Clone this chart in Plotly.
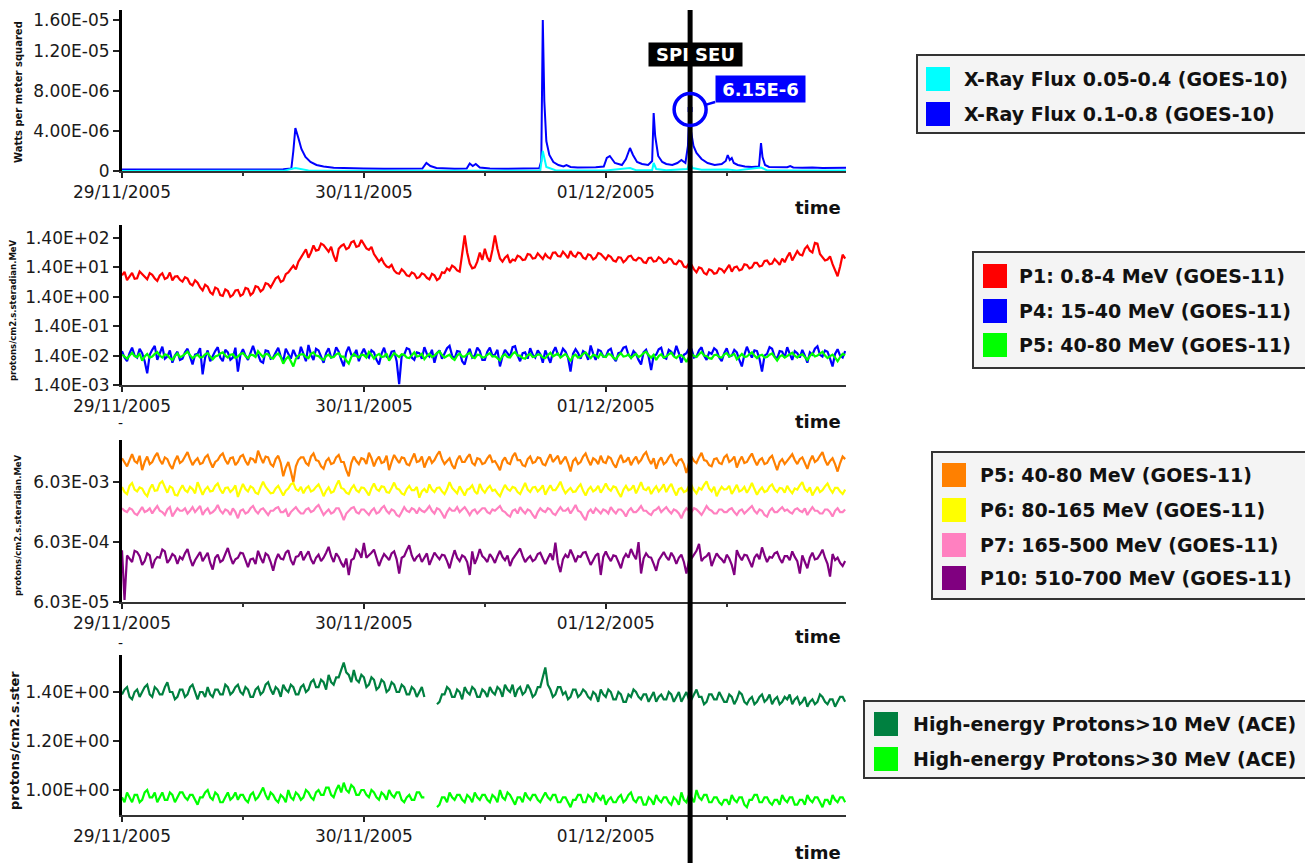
import numpy as np
import pandas as pd
import plotly.graph_objects as go

# ---------------------------------------------------------------- data
START = "2005-11-29 00:00"
END = "2005-12-01 23:50"
SEU_TIME = "2005-12-01 08:22"
SEU_VALUE = 6.15e-6
SEU_LABEL = "SPI SEU"
SEU_VALUE_LABEL = "6.15E-6"

# X-ray flux (GOES-10), hours after 29/11/2005 00:00, values in 1e-7 W/m^2
XRAY_LONG_HOURS = [0, 2, 4, 6, 8, 10, 12, 14, 16, 16.8, 17.0, 17.2, 17.5, 17.8, 18.2, 18.7, 19.3, 20,
                   21, 22, 24, 26, 28, 29.8, 30.2, 30.6, 31.2, 32, 33, 34.2, 34.5, 34.8, 35.1, 35.5,
                   36.5, 38, 40, 41.4, 41.6, 41.75, 41.9, 42.1, 42.4, 42.8, 43.3, 43.8, 44.1, 44.5,
                   45.2, 46, 47, 47.8, 48.1, 48.4, 48.9, 49.6, 50.0, 50.4, 50.7, 51.1, 51.6, 52.2,
                   52.6, 52.75, 52.9, 53.2, 53.6, 54.0, 54.6, 55.1, 55.5, 55.9, 56.15, 56.3, 56.45,
                   56.7, 57.0, 57.5, 58.1, 58.8, 59.5, 59.9, 60.1, 60.3, 60.5, 60.7, 61.1, 61.8, 62.5,
                   63.2, 63.4, 63.55, 63.8, 64.2, 65, 66, 66.3, 66.6, 67.5, 68.5, 69.5, 70.5, 71.5, 71.9]
XRAY_LONG_E7 = [1.6, 1.5, 1.8, 1.6, 1.4, 1.5, 1.6, 1.5, 1.7, 2.5, 20, 43, 33, 22, 14, 9, 6, 4.5,
                3.2, 2.8, 2.5, 2.3, 2.2, 2.5, 8, 5, 3, 2.4, 2.2, 2.6, 7.5, 5, 7, 3.5,
                2.4, 2.2, 2.3, 2.8, 10, 151, 70, 30, 16, 9, 6, 4.5, 6, 4,
                3.5, 3.3, 3.8, 4.5, 13, 15, 8, 6, 12, 23, 16, 9, 7, 6,
                10, 58, 35, 15, 9, 7, 6, 8, 11, 8, 25, 61.5, 40,
                25, 18, 12, 8, 6, 7, 10, 16, 11, 13, 8, 6, 4.5, 4,
                4.5, 28, 14, 6, 4, 3.6, 3.8, 5, 3.5, 3.2, 3.5, 3.0, 3.3, 3.1, 3.2]
XRAY_SHORT_HOURS = [0, 8, 16, 17.2, 18.5, 24, 30, 36, 41.5, 41.75, 42.1, 43, 48, 50.4, 51, 52.6,
                    52.75, 53.0, 54, 56.1, 56.3, 56.6, 57.5, 60.1, 61, 63.4, 64, 68, 71.9]
XRAY_SHORT_E7 = [0.1, 0.1, 0.15, 3, 0.6, 0.2, 0.25, 0.2, 0.4, 20, 4, 0.8, 0.5, 3, 0.8, 0.8,
                 8, 2, 0.7, 2, 9, 3, 1.2, 1.5, 0.6, 3.5, 0.6, 0.4, 0.4]

# GOES-11 protons, 15-minute samples from 29/11/2005 00:00 (protons/cm2.s.sr.MeV)
P1_FLUX = [7.5, 9.8, 5.2, 6.6, 9.1, 5.8, 6.0, 10.2, 8.3, 6.4, 5.5, 8.9,
           7.8, 5.9, 4.9, 7.4, 8.8, 5.6, 6.2, 9.4, 5.1, 6.8, 7.0, 5.3,
           4.6, 6.5, 5.8, 3.9, 3.4, 5.1, 4.2, 2.9, 2.3, 3.6, 3.1, 2.0,
           1.7, 2.9, 2.6, 1.6, 1.5, 2.5, 2.2, 1.4, 1.6, 2.3, 2.4, 1.5,
           1.7, 2.8, 2.6, 1.6, 1.9, 3.2, 3.0, 2.1, 2.5, 4.1, 3.8, 2.9,
           4.2, 6.0, 6.8, 4.5, 5.0, 8.2, 9.5, 13, 16, 12, 22, 30,
           42, 58, 30, 45, 78, 52, 55, 90, 80, 62, 48, 70,
           35, 22, 60, 75, 85, 58, 65, 100, 110, 70, 75, 120,
           85, 62, 55, 70, 40, 30, 22, 28, 19, 15, 14, 17,
           11, 9, 8.5, 12, 10, 7.5, 7, 9.5, 8.5, 6, 6.5, 8.8,
           8, 6.2, 5.5, 8.5, 7.5, 5.2, 6, 9.5, 9, 13, 11, 16,
           14, 11, 10, 40, 170, 45, 19, 13, 14, 22, 45, 25,
           60, 30, 22, 55, 170, 60, 28, 22, 30, 36, 20, 26,
           24, 35, 32, 25, 26, 40, 38, 28, 29, 42, 35, 27,
           40, 31, 28, 44, 45, 34, 33, 48, 38, 29, 50, 36,
           32, 45, 42, 30, 27, 39, 36, 26, 30, 43, 40, 31,
           26, 36, 32, 24, 22, 31, 30, 21, 25, 33, 35, 26,
           24, 30, 28, 21, 20, 29, 30, 22, 23, 31, 27, 20,
           21, 28, 26, 19, 18, 24, 22, 15, 14, 19, 17, 12,
           9.5, 14, 13, 9, 8, 12, 11, 8.5, 9, 13, 12, 9.5,
           13, 17, 10, 14, 15, 11, 12, 18, 17, 13, 14, 20,
           20, 15, 16, 23, 24, 18, 19, 27, 22, 17, 28, 21,
           32, 45, 24, 35, 50, 38, 36, 60, 75, 52, 45, 95,
           90, 40, 30, 24, 26, 33, 18, 12, 7, 15, 38, 28]
P4_FLUX_E3 = [20, 12, 9, 17, 26, 14, 12, 24, 17, 9, 3.5, 15,
              22, 30, 10, 16, 28, 11, 13, 21, 8, 14, 19, 10,
              11, 18, 24, 13, 7, 15, 16, 25, 3.2, 12, 21, 9,
              14, 20, 27, 12, 9, 22, 18, 10, 12, 26, 4, 15,
              23, 14, 10, 19, 30, 16, 15, 9, 8, 21, 20, 11,
              12, 18, 26, 13, 9, 24, 17, 11, 22, 14, 11, 28,
              16, 9, 32, 15, 10, 24, 21, 13, 8, 17, 25, 12,
              13, 27, 19, 10, 6, 18, 28, 15, 14, 22, 9, 16,
              24, 15, 12, 21, 18, 10, 7, 16, 26, 13, 11, 19,
              20, 9, 1.5, 14, 15, 25, 23, 12, 10, 18, 17, 11,
              27, 16, 13, 22, 8, 17, 21, 11, 16, 25, 30, 14,
              11, 20, 19, 9, 7, 15, 24, 12, 14, 26, 20, 10,
              10, 19, 26, 14, 15, 22, 6, 13, 22, 16, 13, 27,
              29, 14, 9, 17, 18, 11, 25, 15, 12, 21, 16, 8,
              21, 13, 8, 18, 27, 15, 14, 24, 19, 12, 4, 16,
              23, 17, 11, 20, 17, 10, 31, 16, 10, 22, 20, 13,
              13, 21, 24, 12, 9, 17, 18, 26, 28, 15, 12, 20,
              16, 10, 7, 18, 22, 13, 4.5, 14, 15, 23, 26, 12,
              11, 22, 19, 14, 30, 17, 8, 15, 17, 24, 23, 12,
              13, 21, 27, 14, 10, 18, 16, 25, 21, 12, 9, 17,
              25, 13, 14, 22, 18, 10, 6, 15, 28, 17, 12, 21,
              20, 11, 4, 14, 16, 27, 24, 13, 11, 20, 19, 12,
              27, 16, 10, 20, 17, 12, 22, 14, 8, 18, 15, 24,
              29, 15, 13, 21, 19, 11, 6, 16, 23, 14, 12, 20]
P5_FLUX_E3 = [15.0, 12.5, 11.0, 14.0, 17.5, 13.5, 12.5, 16.5, 9.5, 13.0, 16.0, 12.0,
              13.0, 16.0, 18.5, 14.0, 12.0, 15.5, 14.5, 11.5, 10.0, 13.5, 16.5, 12.5,
              13.5, 16.0, 19.0, 14.5, 11.5, 13.5, 15.0, 12.0, 12.5, 15.5, 17.0, 13.0,
              10.5, 13.0, 14.0, 16.5, 18.0, 14.0, 12.0, 15.0, 15.5, 11.5, 13.0, 16.0,
              17.0, 13.5, 11.5, 15.0, 14.5, 12.5, 20.0, 15.5, 12.5, 16.0, 15.5, 12.0,
              11.0, 14.5, 16.5, 12.5, 7.5, 10.5, 13.0, 9.0, 6.0, 11.0, 14.0, 15.5,
              15.5, 12.5, 11.5, 16.0, 18.0, 14.0, 13.5, 11.0, 10.0, 13.5, 15.0, 12.0,
              12.5, 15.5, 17.0, 13.0, 13.0, 9.5, 7.5, 12.5, 16.0, 13.5, 12.0, 15.0,
              14.5, 12.0, 18.5, 15.0, 11.0, 14.0, 16.0, 12.5, 13.0, 16.5, 9.5, 13.0,
              17.0, 14.5, 12.5, 15.5, 15.0, 12.0, 11.5, 14.5, 18.0, 13.0, 13.5, 16.0,
              10.5, 13.5, 16.0, 12.5, 14.0, 17.0, 19.5, 14.5, 12.0, 13.5, 15.0, 11.5,
              10.0, 14.0, 16.5, 13.0, 13.0, 15.5, 17.5, 12.5, 11.5, 15.0, 14.5, 12.0,
              12.5, 15.0, 17.0, 13.0, 13.5, 11.5, 9.5, 13.5, 15.5, 12.5, 12.0, 16.0,
              18.5, 14.0, 14.0, 11.5, 11.0, 14.5, 16.0, 12.5, 13.0, 15.5, 15.0, 12.0,
              11.5, 14.5, 17.5, 13.0, 14.5, 16.5, 12.0, 14.0, 16.0, 12.5, 9.0, 13.5,
              15.0, 12.0, 13.0, 16.0, 18.0, 14.0, 11.5, 15.0, 14.0, 12.0, 16.5, 13.0,
              12.5, 16.0, 15.0, 12.0, 10.5, 14.0, 17.0, 13.0, 13.5, 15.5, 11.5, 14.0,
              16.0, 12.5, 14.0, 17.0, 19.0, 14.5, 12.0, 15.0, 10.0, 13.5, 15.5, 12.0,
              13.0, 15.5, 17.5, 13.0, 11.5, 14.0, 14.5, 12.0, 8.5, 12.5, 16.0, 13.5,
              12.5, 15.5, 18.5, 14.0, 13.5, 11.5, 11.0, 14.5, 15.0, 12.5, 12.0, 15.5,
              17.0, 13.0, 14.0, 16.0, 10.5, 13.5, 16.0, 12.5, 13.0, 15.5, 18.0, 14.0,
              11.5, 14.0, 15.0, 12.0, 12.5, 15.0, 16.5, 12.5, 9.5, 13.0, 14.5, 12.0,
              13.5, 15.5, 17.5, 14.0, 12.0, 14.5, 15.5, 12.5, 10.0, 13.5, 16.5, 13.0,
              14.0, 16.5, 19.0, 14.0, 11.5, 13.5, 15.0, 12.0, 9.0, 12.5, 16.0, 14.5]
P6_FLUX_E4 = [50, 41, 38, 52, 58, 45, 42, 49, 47, 39, 35, 46,
              55, 43, 44, 57, 62, 48, 40, 51, 48, 37, 36, 45,
              53, 44, 41, 50, 46, 39, 60, 47, 37, 45, 50, 42,
              43, 52, 57, 45, 39, 48, 49, 41, 45, 53, 34, 44,
              56, 46, 42, 51, 48, 40, 38, 49, 61, 50, 45, 39,
              40, 47, 52, 44, 36, 43, 47, 55, 58, 46, 43, 50,
              39, 47, 51, 42, 44, 50, 55, 45, 35, 43, 49, 40,
              42, 53, 64, 48, 46, 40, 38, 47, 53, 44, 41, 49,
              48, 42, 36, 47, 57, 46, 43, 51, 50, 41, 40, 48,
              59, 47, 45, 39, 37, 46, 52, 44, 44, 50, 33, 42,
              46, 40, 55, 45, 41, 48, 49, 42, 38, 46, 60, 48,
              44, 39, 51, 43, 36, 45, 47, 53, 42, 38, 56, 45,
              40, 47, 52, 43, 45, 39, 35, 44, 54, 46, 43, 50,
              48, 41, 38, 47, 58, 45, 41, 49, 50, 42, 46, 53,
              37, 45, 53, 44, 44, 51, 61, 47, 39, 44, 48, 41,
              42, 49, 55, 43, 36, 45, 50, 42, 45, 52, 40, 47,
              57, 47, 43, 51, 49, 40, 34, 45, 52, 44, 46, 53,
              39, 48, 60, 46, 44, 50, 38, 45, 51, 42, 47, 55,
              41, 49, 56, 44, 36, 46, 48, 41, 43, 52, 53, 44,
              39, 48, 45, 54, 62, 47, 42, 50, 35, 43, 50, 45,
              46, 52, 38, 45, 54, 42, 44, 50, 40, 47, 58, 46,
              37, 44, 49, 41, 43, 51, 55, 45, 41, 48, 47, 40,
              52, 44, 39, 47, 45, 53, 60, 46, 42, 49, 36, 43,
              50, 41, 44, 51, 57, 46, 40, 48, 48, 42, 38, 45]
P7_FLUX_E4 = [22, 20, 19, 22, 21, 18, 17, 20, 23, 19, 20, 22,
              18, 21, 24, 20, 19, 17, 21, 23, 16, 19, 22, 20,
              20, 22, 18, 20, 23, 19, 21, 24, 17, 20, 22, 18,
              19, 21, 25, 20, 18, 21, 20, 17, 22, 19, 15, 20,
              21, 18, 19, 22, 24, 20, 18, 21, 22, 19, 17, 20,
              20, 22, 23, 19, 19, 21, 16, 19, 21, 23, 20, 18,
              18, 21, 22, 19, 20, 23, 25, 20, 17, 19, 21, 18,
              19, 22, 22, 18, 14, 18, 20, 22, 23, 19, 18, 21,
              21, 19, 17, 20, 22, 18, 19, 22, 24, 20, 18, 21,
              20, 17, 16, 19, 23, 20, 19, 22, 21, 18, 22, 20,
              19, 21, 24, 20, 18, 22, 21, 18, 15, 19, 22, 20,
              20, 23, 19, 21, 23, 20, 17, 20, 21, 18, 20, 22,
              22, 19, 18, 21, 20, 22, 24, 20, 19, 17, 16, 20,
              21, 18, 23, 20, 18, 21, 20, 17, 15, 19, 22, 20,
              19, 22, 21, 18, 17, 20, 23, 20, 20, 22, 18, 21,
              25, 20, 19, 16, 14, 19, 21, 18, 22, 20, 18, 21,
              20, 18, 23, 20, 18, 21, 21, 19, 16, 20, 22, 19,
              19, 21, 24, 20, 20, 18, 17, 20, 21, 23, 19, 21,
              23, 20, 18, 21, 20, 18, 15, 19, 22, 20, 19, 22,
              21, 19, 17, 20, 24, 21, 20, 18, 18, 21, 21, 19,
              19, 21, 22, 19, 17, 20, 21, 18, 20, 22, 24, 20,
              18, 21, 20, 17, 16, 20, 22, 19, 19, 21, 23, 20,
              21, 19, 18, 21, 22, 20, 19, 22, 17, 20, 23, 20,
              20, 18, 18, 21, 21, 19, 16, 20, 22, 19, 19, 21]
P10_FLUX_E4 = [4.4, 0.65, 3.6, 3.2, 2.8, 4.3, 4.1, 3.5, 2.5, 2.9, 3.9, 3.6,
               2.2, 3.0, 3.4, 3.3, 4.5, 4.2, 2.7, 3.1, 3.8, 3.5, 2.6, 3.4,
               3.1, 3.9, 4.6, 3.2, 2.4, 3.0, 3.5, 4.1, 2.9, 3.4, 4.0, 2.7,
               2.1, 3.3, 3.7, 2.8, 3.0, 3.8, 4.8, 3.4, 2.6, 3.1, 3.3, 4.0,
               3.9, 3.0, 2.3, 3.1, 3.2, 2.6, 4.3, 3.3, 2.7, 3.9, 3.6, 2.8,
               2.0, 3.0, 3.8, 3.2, 3.1, 4.0, 4.4, 3.0, 2.5, 3.4, 3.5, 4.2,
               3.0, 3.6, 4.2, 3.1, 2.6, 3.3, 3.7, 2.9, 3.3, 4.0, 5.0, 3.5,
               2.8, 3.9, 3.4, 2.7, 2.3, 3.2, 1.7, 3.0, 3.2, 4.5, 4.1, 3.3,
               5.8, 3.3, 3.6, 4.0, 4.5, 3.2, 2.4, 3.1, 3.8, 3.4, 3.0, 3.9,
               4.2, 3.1, 1.8, 3.3, 3.5, 4.4, 5.3, 3.6, 2.9, 3.4, 3.7, 2.8,
               3.3, 3.9, 2.5, 3.1, 4.0, 3.5, 3.1, 3.7, 3.6, 2.9, 2.2, 3.2,
               4.4, 3.3, 2.9, 3.6, 3.4, 2.8, 1.7, 4.2, 2.6, 3.3, 4.6, 3.5,
               3.2, 2.8, 3.8, 3.3, 2.7, 3.5, 4.3, 3.4, 3.0, 3.6, 2.4, 3.1,
               3.6, 4.1, 4.7, 3.5, 2.8, 3.2, 3.5, 2.9, 3.1, 3.8, 4.0, 3.2,
               2.6, 3.2, 3.9, 3.0, 5.9, 2.7, 1.9, 3.1, 3.7, 3.3, 4.5, 3.6,
               2.8, 3.5, 3.4, 4.0, 4.1, 3.2, 2.5, 3.0, 3.6, 3.9, 1.7, 3.4,
               4.2, 3.4, 2.9, 3.6, 3.5, 2.8, 2.2, 3.2, 3.8, 3.3, 4.6, 3.7,
               3.1, 6.0, 1.8, 3.2, 3.9, 3.4, 3.3, 2.6, 2.0, 3.0, 3.6, 4.1,
               3.4, 3.0, 4.0, 3.4, 2.6, 3.3, 3.7, 2.8, 1.8, 2.9, 3.2, 3.8,
               4.3, 5.6, 2.9, 3.3, 3.5, 4.0, 2.4, 3.1, 3.9, 3.4, 3.1, 2.7,
               3.7, 3.2, 2.5, 1.7, 4.4, 3.5, 3.0, 3.7, 3.6, 2.9, 2.3, 3.3,
               3.8, 3.1, 4.9, 3.6, 2.8, 3.4, 3.3, 3.9, 4.1, 3.2, 2.7, 3.5,
               3.5, 3.0, 4.2, 3.4, 2.9, 1.8, 3.6, 2.8, 2.2, 3.3, 4.0, 3.1,
               3.2, 3.7, 4.5, 3.3, 2.6, 1.6, 3.8, 3.0, 3.3, 2.7, 2.4, 2.9]

# ACE high-energy protons, 15-minute samples (None = data gap)
ACE_GT10 = [1.39, 1.41, 1.42, 1.38, 1.37, 1.40, 1.41, 1.38, 1.40, 1.42, 1.43, 1.39,
            1.38, 1.42, 1.41, 1.39, 1.39, 1.42, 1.44, 1.40, 1.40, 1.37, 1.38, 1.41,
            1.41, 1.38, 1.39, 1.42, 1.43, 1.40, 1.37, 1.40, 1.40, 1.38, 1.42, 1.39,
            1.38, 1.41, 1.41, 1.39, 1.39, 1.43, 1.42, 1.39, 1.40, 1.42, 1.43, 1.40,
            1.39, 1.42, 1.41, 1.38, 1.38, 1.41, 1.42, 1.39, 1.40, 1.43, 1.44, 1.41,
            1.39, 1.42, 1.41, 1.38, 1.43, 1.41, 1.40, 1.43, 1.42, 1.39, 1.39, 1.42,
            1.43, 1.40, 1.41, 1.44, 1.45, 1.42, 1.42, 1.45, 1.44, 1.41, 1.47, 1.44,
            1.43, 1.46, 1.46, 1.49, 1.52, 1.48, 1.47, 1.44, 1.49, 1.45, 1.44, 1.47,
            1.46, 1.42, 1.43, 1.46, 1.45, 1.41, 1.42, 1.45, 1.44, 1.40, 1.41, 1.44,
            1.43, 1.40, 1.40, 1.43, 1.42, 1.39, 1.39, 1.42, 1.41, 1.38, 1.40, 1.42,
            1.38, None, None, None, None, 1.35, 1.36, 1.39, 1.39, 1.42, 1.41, 1.38,
            1.38, 1.41, 1.40, 1.37, 1.42, 1.40, 1.39, 1.42, 1.41, 1.38, 1.38, 1.41,
            1.40, 1.38, 1.42, 1.40, 1.39, 1.42, 1.41, 1.38, 1.43, 1.41, 1.40, 1.43,
            1.38, 1.41, 1.42, 1.39, 1.40, 1.43, 1.41, 1.38, 1.39, 1.42, 1.42, 1.46,
            1.50, 1.43, 1.41, 1.38, 1.39, 1.42, 1.42, 1.39, 1.40, 1.37, 1.38, 1.41,
            1.41, 1.38, 1.39, 1.41, 1.40, 1.38, 1.37, 1.40, 1.39, 1.36, 1.41, 1.39,
            1.38, 1.41, 1.40, 1.37, 1.37, 1.40, 1.39, 1.36, 1.36, 1.39, 1.38, 1.41,
            1.40, 1.38, 1.37, 1.39, 1.39, 1.36, 1.38, 1.40, 1.36, 1.38, 1.39, 1.37,
            1.37, 1.40, 1.39, 1.36, 1.38, 1.40, 1.36, 1.38, 1.40, 1.37, 1.37, 1.39,
            1.41, 1.38, 1.38, 1.35, 1.36, 1.39, 1.39, 1.37, 1.37, 1.40, 1.38, 1.36,
            1.36, 1.39, 1.38, 1.35, 1.37, 1.40, 1.39, 1.36, 1.35, 1.37, 1.38, 1.35,
            1.36, 1.38, 1.39, 1.36, 1.37, 1.39, 1.35, 1.37, 1.38, 1.35, 1.36, 1.38,
            1.37, 1.39, 1.35, 1.37, 1.38, 1.35, 1.36, 1.38, 1.34, 1.36, 1.37, 1.35,
            1.36, 1.39, 1.38, 1.36, 1.35, 1.37, 1.37, 1.34, 1.36, 1.38, 1.38, 1.36]
ACE_GT30 = [0.97, 0.95, 0.99, 0.97, 0.95, 0.98, 0.98, 0.95, 0.96, 0.99, 1.00, 0.97,
            0.97, 0.99, 0.95, 0.97, 0.99, 0.96, 0.96, 0.99, 0.98, 0.95, 0.97, 0.99,
            0.99, 0.97, 0.96, 0.98, 0.98, 0.96, 0.94, 0.97, 0.97, 0.99, 1.00, 0.97,
            0.96, 0.99, 0.98, 0.95, 0.95, 0.97, 0.99, 0.96, 0.97, 0.99, 0.96, 0.98,
            0.98, 0.96, 0.95, 0.98, 0.99, 0.96, 0.97, 0.99, 1.01, 0.98, 0.96, 0.99,
            0.98, 0.96, 0.95, 0.98, 0.97, 0.95, 1.00, 0.97, 0.96, 0.99, 0.98, 0.96,
            0.97, 1.00, 0.99, 0.97, 0.96, 0.99, 1.00, 0.98, 0.98, 1.01, 1.01, 0.98,
            0.97, 1.00, 1.02, 0.99, 1.03, 1.00, 0.99, 1.02, 1.01, 0.98, 0.98, 1.00,
            1.00, 0.98, 0.97, 1.00, 0.99, 0.97, 0.96, 0.99, 0.98, 0.96, 1.00, 0.98,
            0.97, 0.99, 0.99, 0.96, 0.95, 0.97, 0.98, 0.96, 0.96, 0.99, 0.99, 0.97,
            0.97, None, None, None, None, 0.93, 0.94, 0.97, 0.97, 0.95, 0.99, 0.97,
            0.96, 0.98, 0.98, 0.96, 0.95, 0.98, 0.97, 0.95, 0.99, 0.97, 0.96, 0.98,
            0.98, 0.96, 0.95, 0.98, 0.97, 0.95, 1.00, 0.97, 0.96, 0.99, 0.98, 0.96,
            0.94, 0.97, 0.97, 0.95, 0.99, 0.97, 0.96, 0.98, 0.98, 0.96, 0.95, 0.97,
            0.99, 0.97, 0.96, 0.98, 0.98, 0.95, 0.95, 0.97, 0.97, 0.95, 0.93, 0.96,
            0.96, 0.98, 0.98, 0.95, 0.95, 0.98, 0.97, 0.95, 0.99, 0.97, 0.96, 0.98,
            0.94, 0.96, 0.97, 0.95, 0.95, 0.97, 0.98, 0.95, 0.96, 0.98, 0.99, 0.96,
            0.95, 0.97, 0.97, 0.94, 0.94, 0.97, 0.96, 0.94, 0.98, 0.96, 0.95, 0.97,
            0.97, 0.95, 0.94, 0.97, 0.96, 0.94, 0.99, 0.96, 0.95, 0.98, 0.97, 0.95,
            1.00, 0.97, 0.96, 0.98, 0.98, 0.95, 0.95, 0.97, 0.97, 0.95, 0.94, 0.96,
            0.96, 0.94, 0.98, 0.96, 0.95, 0.97, 0.97, 0.94, 0.93, 0.96, 0.96, 0.98,
            0.98, 0.95, 0.95, 0.97, 0.97, 0.95, 0.94, 0.96, 0.96, 0.94, 0.98, 0.96,
            0.95, 0.97, 0.97, 0.94, 0.94, 0.96, 0.96, 0.94, 0.98, 0.96, 0.95, 0.97,
            0.97, 0.95, 0.93, 0.96, 0.96, 0.94, 0.98, 0.96, 0.95, 0.97, 0.97, 0.95]

# axis tick labels
XRAY_TICKVALS = [0, 4e-6, 8e-6, 1.2e-5, 1.51e-5]
XRAY_TICKTEXT = ["0", "4.00E-06", "8.00E-06", "1.20E-05", "1.60E-05"]
P_TICKVALS = [1.4e-3, 1.4e-2, 1.4e-1, 1.4, 14, 140]
P_TICKTEXT = ["1.40E-03", "1.40E-02", "1.40E-01", "1.40E+00", "1.40E+01", "1.40E+02"]
HP_TICKVALS = [6.03e-5, 6.03e-4, 6.03e-3]
HP_TICKTEXT = ["6.03E-05", "6.03E-04", "6.03E-03"]
ACE_TICKVALS = [1.0, 1.2, 1.4]
ACE_TICKTEXT = ["1.00E+00", "1.20E+00", "1.40E+00"]

Y_TITLES = ["Watts per meter squared", "protons/cm2.s.steradian.MeV",
            "protons/cm2.s.steradian.MeV", "protons/cm2.s.ster"]


def hours_to_time(hours):
    return pd.Timestamp(START) + pd.to_timedelta(hours, unit="h")


def grid(values):
    return pd.date_range(START, periods=len(values), freq="15min")


# series: (panel, name, colour, x, y)
SERIES = [
    (1, "X-Ray Flux 0.1-0.8 (GOES-10)", "#0000ff", hours_to_time(XRAY_LONG_HOURS), np.array(XRAY_LONG_E7) * 1e-7),
    (1, "X-Ray Flux 0.05-0.4 (GOES-10)", "#00ffff", hours_to_time(XRAY_SHORT_HOURS), np.array(XRAY_SHORT_E7) * 1e-7),
    (2, "P1: 0.8-4 MeV (GOES-11)", "#ff0000", grid(P1_FLUX), P1_FLUX),
    (2, "P4: 15-40 MeV (GOES-11)", "#0000ff", grid(P4_FLUX_E3), np.array(P4_FLUX_E3) * 1e-3),
    (2, "P5: 40-80 MeV (GOES-11)", "#00ff00", grid(P5_FLUX_E3), np.array(P5_FLUX_E3) * 1e-3),
    (3, "P5: 40-80 MeV (GOES-11)", "#ff8000", grid(P5_FLUX_E3), np.array(P5_FLUX_E3) * 1e-3),
    (3, "P6: 80-165 MeV (GOES-11)", "#ffff00", grid(P6_FLUX_E4), np.array(P6_FLUX_E4) * 1e-4),
    (3, "P7: 165-500 MeV (GOES-11)", "#ff80c0", grid(P7_FLUX_E4), np.array(P7_FLUX_E4) * 1e-4),
    (3, "P10: 510-700 MeV (GOES-11)", "#800080", grid(P10_FLUX_E4), np.array(P10_FLUX_E4) * 1e-4),
    (4, "High-energy Protons>10 MeV (ACE)", "#008040", grid(ACE_GT10), ACE_GT10),
    (4, "High-energy Protons>30 MeV (ACE)", "#00ff00", grid(ACE_GT30), ACE_GT30),
]

LEGEND_ORDER = {
    1: ["X-Ray Flux 0.05-0.4 (GOES-10)", "X-Ray Flux 0.1-0.8 (GOES-10)"],
    2: ["P1: 0.8-4 MeV (GOES-11)", "P4: 15-40 MeV (GOES-11)", "P5: 40-80 MeV (GOES-11)"],
    3: ["P5: 40-80 MeV (GOES-11)", "P6: 80-165 MeV (GOES-11)", "P7: 165-500 MeV (GOES-11)",
        "P10: 510-700 MeV (GOES-11)"],
    4: ["High-energy Protons>10 MeV (ACE)", "High-energy Protons>30 MeV (ACE)"],
}

# ---------------------------------------------------------------- layout helpers (page pixels -> paper)
W, H = 1313, 863
PAGE_OFFSET = 8  # the html body margin shifts the figure by 8 px
FONT = "DejaVu Sans"


def px(x):
    return (x - PAGE_OFFSET) / W


def py(y):
    return 1 - (y - PAGE_OFFSET) / H


PLOT_LEFT, PLOT_RIGHT = 122, 846
PANELS = {1: (10, 171), 2: (225, 385), 3: (440, 602), 4: (655, 815)}
LEGEND_BOXES = {  # box (x0, y0, x1, y1), swatch x0, item centres, text x
    1: ((917, 55, 1312, 133), 926, [79, 114], 962),
    2: ((973, 252, 1312, 368), 983, [276, 311, 345], 1017),
    3: ((932, 452, 1312, 599), 942, [475, 510, 545, 578], 978),
    4: ((864, 701, 1312, 778), 874, [724, 759], 911),
}

fig = go.Figure()
for panel, name, color, x, y in SERIES:
    suffix = "" if panel == 1 else str(panel)
    fig.add_trace(go.Scatter(x=x, y=y, name=name, mode="lines",
                             line=dict(color=color, width=2.0 if panel == 1 else 2.2),
                             xaxis="x" + suffix, yaxis="y" + suffix,
                             showlegend=False, connectgaps=False))

# marker at the SEU value
fig.add_trace(go.Scatter(x=[SEU_TIME], y=[SEU_VALUE], mode="markers",
                         marker=dict(color="#0000ff", size=5, symbol="square"),
                         showlegend=False, xaxis="x", yaxis="y"))

tickfont = dict(family=FONT, size=17, color="#1a1a1a")
layout = dict(width=W, height=H, margin=dict(l=0, r=0, t=0, b=0, autoexpand=False),
              paper_bgcolor="white", plot_bgcolor="white",
              font=dict(family=FONT), showlegend=False)

ydefs = {
    1: dict(range=[0, 1.61e-5], tickvals=XRAY_TICKVALS, ticktext=XRAY_TICKTEXT),
    2: dict(type="log", range=[np.log10(1.4e-3), np.log10(1.4e-3) + 160 / 29.4],
            tickvals=P_TICKVALS, ticktext=P_TICKTEXT),
    3: dict(type="log", range=[np.log10(6.03e-5), np.log10(6.03e-5) + 162 / 60],
            tickvals=HP_TICKVALS, ticktext=HP_TICKTEXT),
    4: dict(range=[0.898, 1.551], tickvals=ACE_TICKVALS, ticktext=ACE_TICKTEXT),
}

for panel, (top, bottom) in PANELS.items():
    suffix = "" if panel == 1 else str(panel)
    layout["xaxis" + suffix] = dict(
        domain=[px(PLOT_LEFT), px(PLOT_RIGHT)], anchor="y" + suffix, type="date",
        range=[START, END], tick0=START, dtick=86400000, tickformat="%d/%m/%Y",
        showline=True, linecolor="#333333", linewidth=2, ticks="outside", ticklen=5,
        tickwidth=2, tickcolor="#222222", tickfont=tickfont, showgrid=False, zeroline=False,
        automargin=False, layer="below traces" if panel == 1 else "above traces",
        minor=dict(dtick=43200000, tick0=START, ticks="outside", ticklen=3, tickwidth=1.5,
                   tickcolor="#333333", showgrid=False))
    yd = dict(domain=[py(bottom), py(top)], anchor="x" + suffix, automargin=False,
              showline=True, linecolor="#000000", linewidth=3, ticks="outside", ticklen=6,
              tickwidth=2, tickcolor="#222222", tickfont=tickfont, showgrid=False, zeroline=False)
    yd.update(ydefs[panel])
    layout["yaxis" + suffix] = yd

shapes = []
annotations = []

# SEU vertical marker line through all panels
shapes.append(dict(type="line", xref="x", yref="paper", x0=SEU_TIME, x1=SEU_TIME,
                   y0=0, y1=py(10), line=dict(color="black", width=5), layer="above"))
# circle around the SEU value
shapes.append(dict(type="circle", xref="x", yref="y", xsizemode="pixel", ysizemode="pixel",
                   xanchor=SEU_TIME, yanchor=SEU_VALUE, x0=-16, x1=16, y0=-16, y1=16,
                   line=dict(color="#0000ff", width=3.5)))

annotations.append(dict(x=SEU_TIME, xref="x", y=py(41.5), yref="paper", text="<b>" + SEU_LABEL + "</b>",
                        showarrow=False, font=dict(family=FONT, size=18, color="white"),
                        bgcolor="black", width=89, height=19, borderpad=2, xshift=5))
annotations.append(dict(x=SEU_TIME, xref="x", y=SEU_VALUE, yref="y",
                        text="<b>" + SEU_VALUE_LABEL + "</b>",
                        showarrow=True, arrowhead=0, arrowwidth=2.5, arrowcolor="#0000ff",
                        ax=70, ay=-21, standoff=16,
                        font=dict(family=FONT, size=18, color="white"),
                        bgcolor="#0000ff", width=85, height=22, borderpad=2))

# axis titles and "time" labels
title_specs = [(18, 92, 10), (13, 310, 8.5), (18, 525, 8.5), (14, 741, 13)]
for (xc, yc, size), text in zip(title_specs, Y_TITLES):
    annotations.append(dict(x=px(xc), y=py(yc), xref="paper", yref="paper", text="<b>" + text + "</b>",
                            textangle=-90, showarrow=False, xanchor="center", yanchor="middle",
                            font=dict(family=FONT, size=size, color="#111111")))
for yc in [207, 421, 636, 852]:
    annotations.append(dict(x=px(843), y=py(yc), xref="paper", yref="paper", text="<b>time</b>",
                            showarrow=False, xanchor="right", yanchor="middle",
                            font=dict(family=FONT, size=18, color="#111111")))
for yc in [423, 643]:
    annotations.append(dict(x=px(120), y=py(yc), xref="paper", yref="paper", text="-",
                            showarrow=False, xanchor="center", yanchor="middle",
                            font=dict(family=FONT, size=14, color="#111111")))

# legends
color_of = {}
for panel, name, color, x, y in SERIES:
    color_of[(panel, name)] = color
for panel, names in LEGEND_ORDER.items():
    (bx0, by0, bx1, by1), sx, centres, tx = LEGEND_BOXES[panel]
    shapes.append(dict(type="rect", xref="paper", yref="paper", x0=px(bx0), x1=px(bx1),
                       y0=py(by1), y1=py(by0), fillcolor="#f4f4f4",
                       line=dict(color="#333333", width=2)))
    for name, cy in zip(names, centres):
        shapes.append(dict(type="rect", xref="paper", yref="paper", x0=px(sx), x1=px(sx + 24),
                           y0=py(cy + 12), y1=py(cy - 12), fillcolor=color_of[(panel, name)],
                           line=dict(width=0)))
        annotations.append(dict(x=px(tx), y=py(cy), xref="paper", yref="paper",
                                text="<b>" + name + "</b>", showarrow=False,
                                xanchor="left", yanchor="middle",
                                font=dict(family=FONT, size=19, color="#111111")))

layout["shapes"] = shapes
layout["annotations"] = annotations
fig.update_layout(**layout)
fig.write_html("out.html")
